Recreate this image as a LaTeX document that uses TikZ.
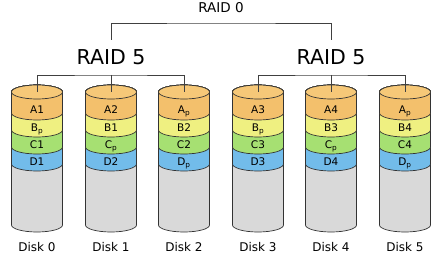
\documentclass[tikz,border=0pt]{standalone}
\usepackage{fontspec}
\setmainfont{DejaVu Sans}
\usepackage{xcolor}

\definecolor{diskTop}{HTML}{F6C878}
\definecolor{diskA}{HTML}{F3C06C}
\definecolor{diskB}{HTML}{EFF081}
\definecolor{diskC}{HTML}{A6E072}
\definecolor{diskD}{HTML}{72BCEA}
\definecolor{diskE}{HTML}{D9D9D9}
\newcommand{\pty}{\textsubscript{p}}

\begin{document}
\begin{tikzpicture}[x=1pt, y=-1pt,
                    every node/.style={inner sep=0pt, text height=0.73em, text depth=0pt},
                    edge/.style={draw=black!75, line width=0.8pt},
                    disk/.style={draw=black!80, line width=0.7pt},
                    cell/.style={font=\fontsize{10.5}{12}\selectfont},
                    disklabel/.style={font=\fontsize{12}{14}\selectfont},
                    raidfive/.style={font=\fontsize{20.5}{24}\selectfont},
                    raidzero/.style={font=\fontsize{13.5}{16}\selectfont}]
  \useasboundingbox (0,0) rectangle (439,254);

  % disks
  \foreach \i/\x/\ta/\tb/\tc/\td in {0/37/A1/B\pty/C1/D1,
                                     1/111/A2/B1/C\pty/D2,
                                     2/184/A\pty/B2/C2/D\pty,
                                     3/258/A3/B\pty/C3/D3,
                                     4/331/A4/B3/C\pty/D4,
                                     5/405/A\pty/B4/C4/D\pty} {
    \foreach \yb/\col in {225/diskE, 164/diskD, 147/diskC, 130/diskB, 113/diskA}
      \filldraw[disk, fill=\col] ({\x-25.5},\yb)
        arc[start angle=180, end angle=360, x radius=25.5pt, y radius=7pt]
        -- ({\x+25.5},92)
        arc[start angle=0, end angle=180, x radius=25.5pt, y radius=7pt] -- cycle;
    \filldraw[disk, fill=diskTop] (\x,92) ellipse [x radius=25.5pt, y radius=7pt];
    \coordinate (d\i) at (\x,92);
    \node[cell] (a\i) at (\x,110) {\ta};
    \node[cell] (b\i) at (\x,128) {\tb};
    \node[cell] (c\i) at (\x,145) {\tc};
    \node[cell] (e\i) at (\x,162) {\td};
    \node[disklabel] (n\i) at (\x,248) {Disk \i};
  }

  % array labels
  \node[raidzero] (raid0) at (221,9) {RAID 0};
  \node[raidfive] (raid5a) at (111,60.5) {RAID 5};
  \node[raidfive] (raid5b) at (331,60.5) {RAID 5};

  % connectors
  \coordinate (r0) at (221,23);
  \coordinate (r5a) at (111,40);
  \coordinate (r5b) at (331,40);
  \coordinate (h5a) at (111,75);
  \coordinate (h5b) at (331,75);
  \draw[edge] (r5a) |- (r0) -| (r5b);
  \draw[edge] (d0) |- (h5a) -| (d2);
  \draw[edge] (h5a) -- (d1);
  \draw[edge] (d3) |- (h5b) -| (d5);
  \draw[edge] (h5b) -- (d4);
\end{tikzpicture}
\end{document}
